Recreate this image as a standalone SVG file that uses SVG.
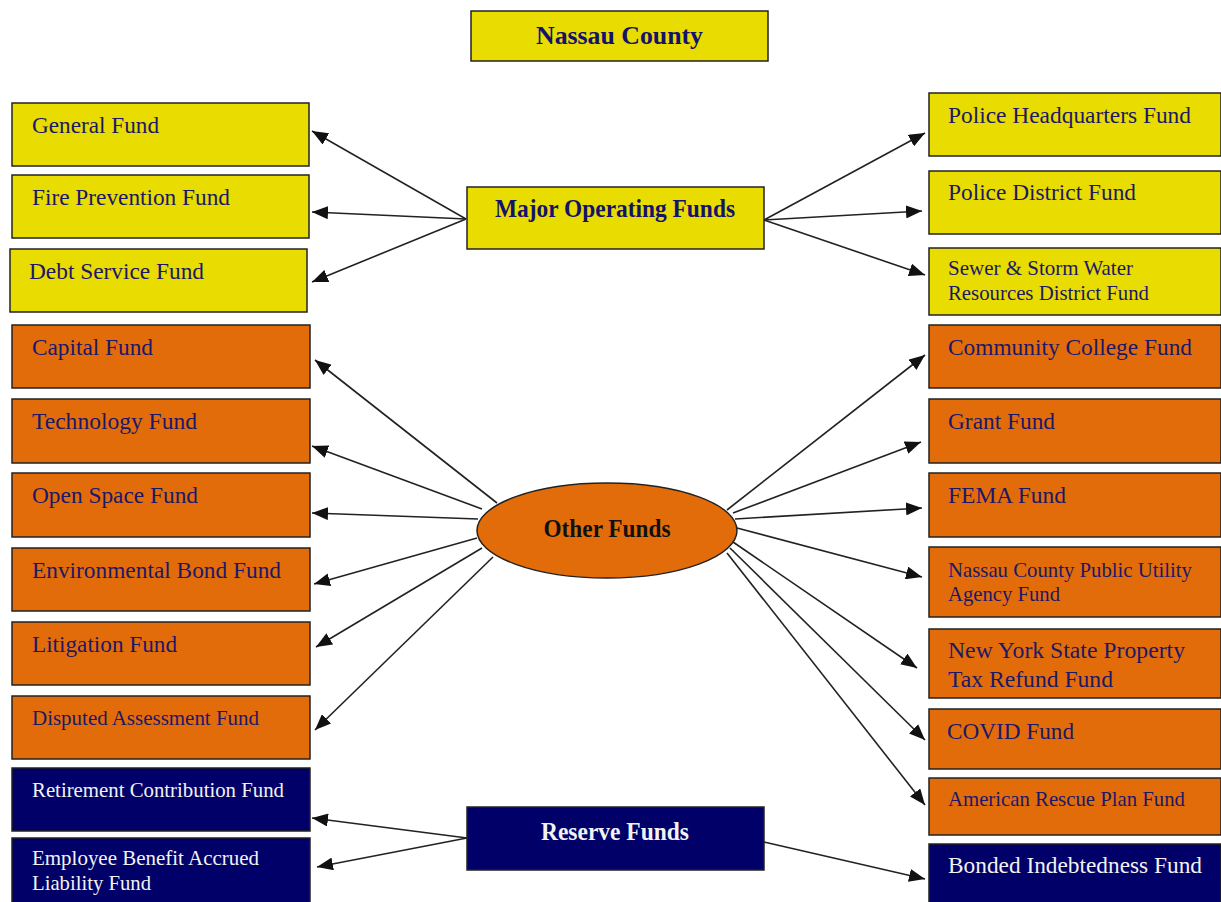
<svg xmlns="http://www.w3.org/2000/svg" width="1221" height="902" viewBox="0 0 1221 902">
<style>
.y{fill:#e8dc00;stroke:#222;stroke-width:1.5}
.o{fill:#e36c0a;stroke:#222;stroke-width:1.5}
.n{fill:#000068;stroke:#222;stroke-width:1.5}
text{font-family:"Liberation Serif","Times New Roman",serif}
.t{font-size:24px;fill:#1c1868}
.s{font-size:21px;fill:#1c1868}
.w{font-size:21px;fill:#f2f2f2}
.wl{font-size:24px;fill:#f2f2f2}
.b{font-size:25px;font-weight:bold;fill:#14126a;text-anchor:middle}
.bw{font-size:25px;font-weight:bold;fill:#f2f2f2;text-anchor:middle}
.bk{font-size:25px;font-weight:bold;fill:#111;text-anchor:middle}
.c line{stroke:#222;stroke-width:1.6;marker-end:url(#ah)}
</style>
<defs>
<marker id="ah" markerUnits="userSpaceOnUse" markerWidth="17" markerHeight="13" refX="16" refY="6.5" orient="auto">
<path d="M0,0 L16,6.5 L0,13 z" fill="#111"/>
</marker>
</defs>
<rect width="1221" height="902" fill="#fff"/>
<g id="connectors" class="c">
<line x1="466" y1="219" x2="312" y2="131"/>
<line x1="466" y1="219" x2="312" y2="212"/>
<line x1="466" y1="219" x2="312" y2="282"/>
<line x1="764" y1="220" x2="925" y2="133"/>
<line x1="764" y1="220" x2="922" y2="211"/>
<line x1="764" y1="220" x2="925" y2="275"/>
<line x1="497" y1="503" x2="315" y2="360"/>
<line x1="482" y1="509" x2="312" y2="446"/>
<line x1="478" y1="519" x2="312" y2="513"/>
<line x1="477" y1="538" x2="314" y2="584"/>
<line x1="482" y1="548" x2="316" y2="647"/>
<line x1="493" y1="557" x2="315" y2="730"/>
<line x1="727" y1="510" x2="925" y2="355"/>
<line x1="733" y1="513" x2="921" y2="442"/>
<line x1="735" y1="519" x2="922" y2="508"/>
<line x1="737" y1="528" x2="922" y2="577"/>
<line x1="733" y1="542" x2="917" y2="668"/>
<line x1="730" y1="548" x2="925" y2="740"/>
<line x1="727" y1="553" x2="925" y2="805"/>
<line x1="467" y1="838" x2="312" y2="818"/>
<line x1="467" y1="838" x2="317" y2="867"/>
<line x1="764" y1="842" x2="925" y2="879"/>
</g>
<g id="nassau-county"><rect class="y" x="471" y="11" width="297" height="50"/><text class="b" x="619.5" y="44" textLength="167" lengthAdjust="spacingAndGlyphs">Nassau County</text></g>
<g id="major-operating-funds"><rect class="y" x="467" y="187" width="297" height="62"/><text class="b" x="615" y="217" textLength="240" lengthAdjust="spacingAndGlyphs">Major Operating Funds</text></g>
<g id="other-funds"><ellipse cx="607" cy="530.5" rx="130" ry="47.5" fill="#e36c0a" stroke="#222" stroke-width="1.5"/><text class="bk" x="607" y="537" textLength="127" lengthAdjust="spacingAndGlyphs">Other Funds</text></g>
<g id="reserve-funds"><rect class="n" x="467" y="807" width="297" height="63"/><text class="bw" x="615" y="840" textLength="148" lengthAdjust="spacingAndGlyphs">Reserve Funds</text></g>

<g id="general-fund"><rect class="y" x="12" y="103" width="297" height="63"/><text class="t" x="32" y="133" textLength="127" lengthAdjust="spacingAndGlyphs">General Fund</text></g>
<g id="fire-prevention-fund"><rect class="y" x="12" y="175" width="297" height="63"/><text class="t" x="32" y="205" textLength="198" lengthAdjust="spacingAndGlyphs">Fire Prevention Fund</text></g>
<g id="debt-service-fund"><rect class="y" x="10" y="249" width="297" height="63"/><text class="t" x="29" y="279" textLength="175" lengthAdjust="spacingAndGlyphs">Debt Service Fund</text></g>
<g id="capital-fund"><rect class="o" x="12" y="325" width="298" height="63"/><text class="t" x="32" y="355" textLength="121" lengthAdjust="spacingAndGlyphs">Capital Fund</text></g>
<g id="technology-fund"><rect class="o" x="12" y="399" width="298" height="64"/><text class="t" x="32" y="429" textLength="165" lengthAdjust="spacingAndGlyphs">Technology Fund</text></g>
<g id="open-space-fund"><rect class="o" x="12" y="473" width="298" height="64"/><text class="t" x="32" y="503" textLength="166" lengthAdjust="spacingAndGlyphs">Open Space Fund</text></g>
<g id="environmental-bond-fund"><rect class="o" x="12" y="548" width="298" height="63"/><text class="t" x="32" y="578" textLength="249" lengthAdjust="spacingAndGlyphs">Environmental Bond Fund</text></g>
<g id="litigation-fund"><rect class="o" x="12" y="622" width="298" height="63"/><text class="t" x="32" y="652" textLength="145" lengthAdjust="spacingAndGlyphs">Litigation Fund</text></g>
<g id="disputed-assessment-fund"><rect class="o" x="12" y="696" width="298" height="63"/><text class="s" x="32" y="725" textLength="227" lengthAdjust="spacingAndGlyphs">Disputed Assessment Fund</text></g>
<g id="retirement-contribution-fund"><rect class="n" x="12" y="768" width="298" height="63"/><text class="w" x="32" y="797" textLength="252" lengthAdjust="spacingAndGlyphs">Retirement Contribution Fund</text></g>
<g id="employee-benefit-accrued-liability-fund"><rect class="n" x="12" y="838" width="298" height="70"/><text class="w" x="32" y="865" textLength="227" lengthAdjust="spacingAndGlyphs">Employee Benefit Accrued</text><text class="w" x="32" y="890" textLength="119" lengthAdjust="spacingAndGlyphs">Liability Fund</text></g>

<g id="police-headquarters-fund"><rect class="y" x="929" y="93" width="292" height="63"/><text class="t" x="948" y="123" textLength="243" lengthAdjust="spacingAndGlyphs">Police Headquarters Fund</text></g>
<g id="police-district-fund"><rect class="y" x="929" y="171" width="292" height="63"/><text class="t" x="948" y="200" textLength="188" lengthAdjust="spacingAndGlyphs">Police District Fund</text></g>
<g id="sewer-storm-water-fund"><rect class="y" x="929" y="248" width="292" height="67"/><text class="s" x="948" y="275" textLength="185" lengthAdjust="spacingAndGlyphs">Sewer &amp; Storm Water</text><text class="s" x="948" y="300" textLength="201" lengthAdjust="spacingAndGlyphs">Resources District Fund</text></g>
<g id="community-college-fund"><rect class="o" x="929" y="325" width="292" height="63"/><text class="t" x="948" y="355" textLength="244" lengthAdjust="spacingAndGlyphs">Community College Fund</text></g>
<g id="grant-fund"><rect class="o" x="929" y="399" width="292" height="64"/><text class="t" x="948" y="429" textLength="107" lengthAdjust="spacingAndGlyphs">Grant Fund</text></g>
<g id="fema-fund"><rect class="o" x="929" y="473" width="292" height="64"/><text class="t" x="948" y="503" textLength="118" lengthAdjust="spacingAndGlyphs">FEMA Fund</text></g>
<g id="ncpua-fund"><rect class="o" x="929" y="547" width="292" height="70"/><text class="s" x="948" y="577" textLength="244" lengthAdjust="spacingAndGlyphs">Nassau County Public Utility</text><text class="s" x="948" y="601" textLength="112" lengthAdjust="spacingAndGlyphs">Agency Fund</text></g>
<g id="nys-property-tax-refund-fund"><rect class="o" x="929" y="629" width="292" height="69"/><text class="t" x="948" y="658" textLength="237" lengthAdjust="spacingAndGlyphs">New York State Property</text><text class="t" x="948" y="687" textLength="165" lengthAdjust="spacingAndGlyphs">Tax Refund Fund</text></g>
<g id="covid-fund"><rect class="o" x="929" y="709" width="292" height="60"/><text class="t" x="947" y="739" textLength="127" lengthAdjust="spacingAndGlyphs">COVID Fund</text></g>
<g id="american-rescue-plan-fund"><rect class="o" x="929" y="778" width="292" height="57"/><text class="s" x="948" y="806" textLength="237" lengthAdjust="spacingAndGlyphs">American Rescue Plan Fund</text></g>
<g id="bonded-indebtedness-fund"><rect class="n" x="929" y="844" width="292" height="64"/><text class="wl" x="948" y="873" textLength="254" lengthAdjust="spacingAndGlyphs">Bonded Indebtedness Fund</text></g>
</svg>
